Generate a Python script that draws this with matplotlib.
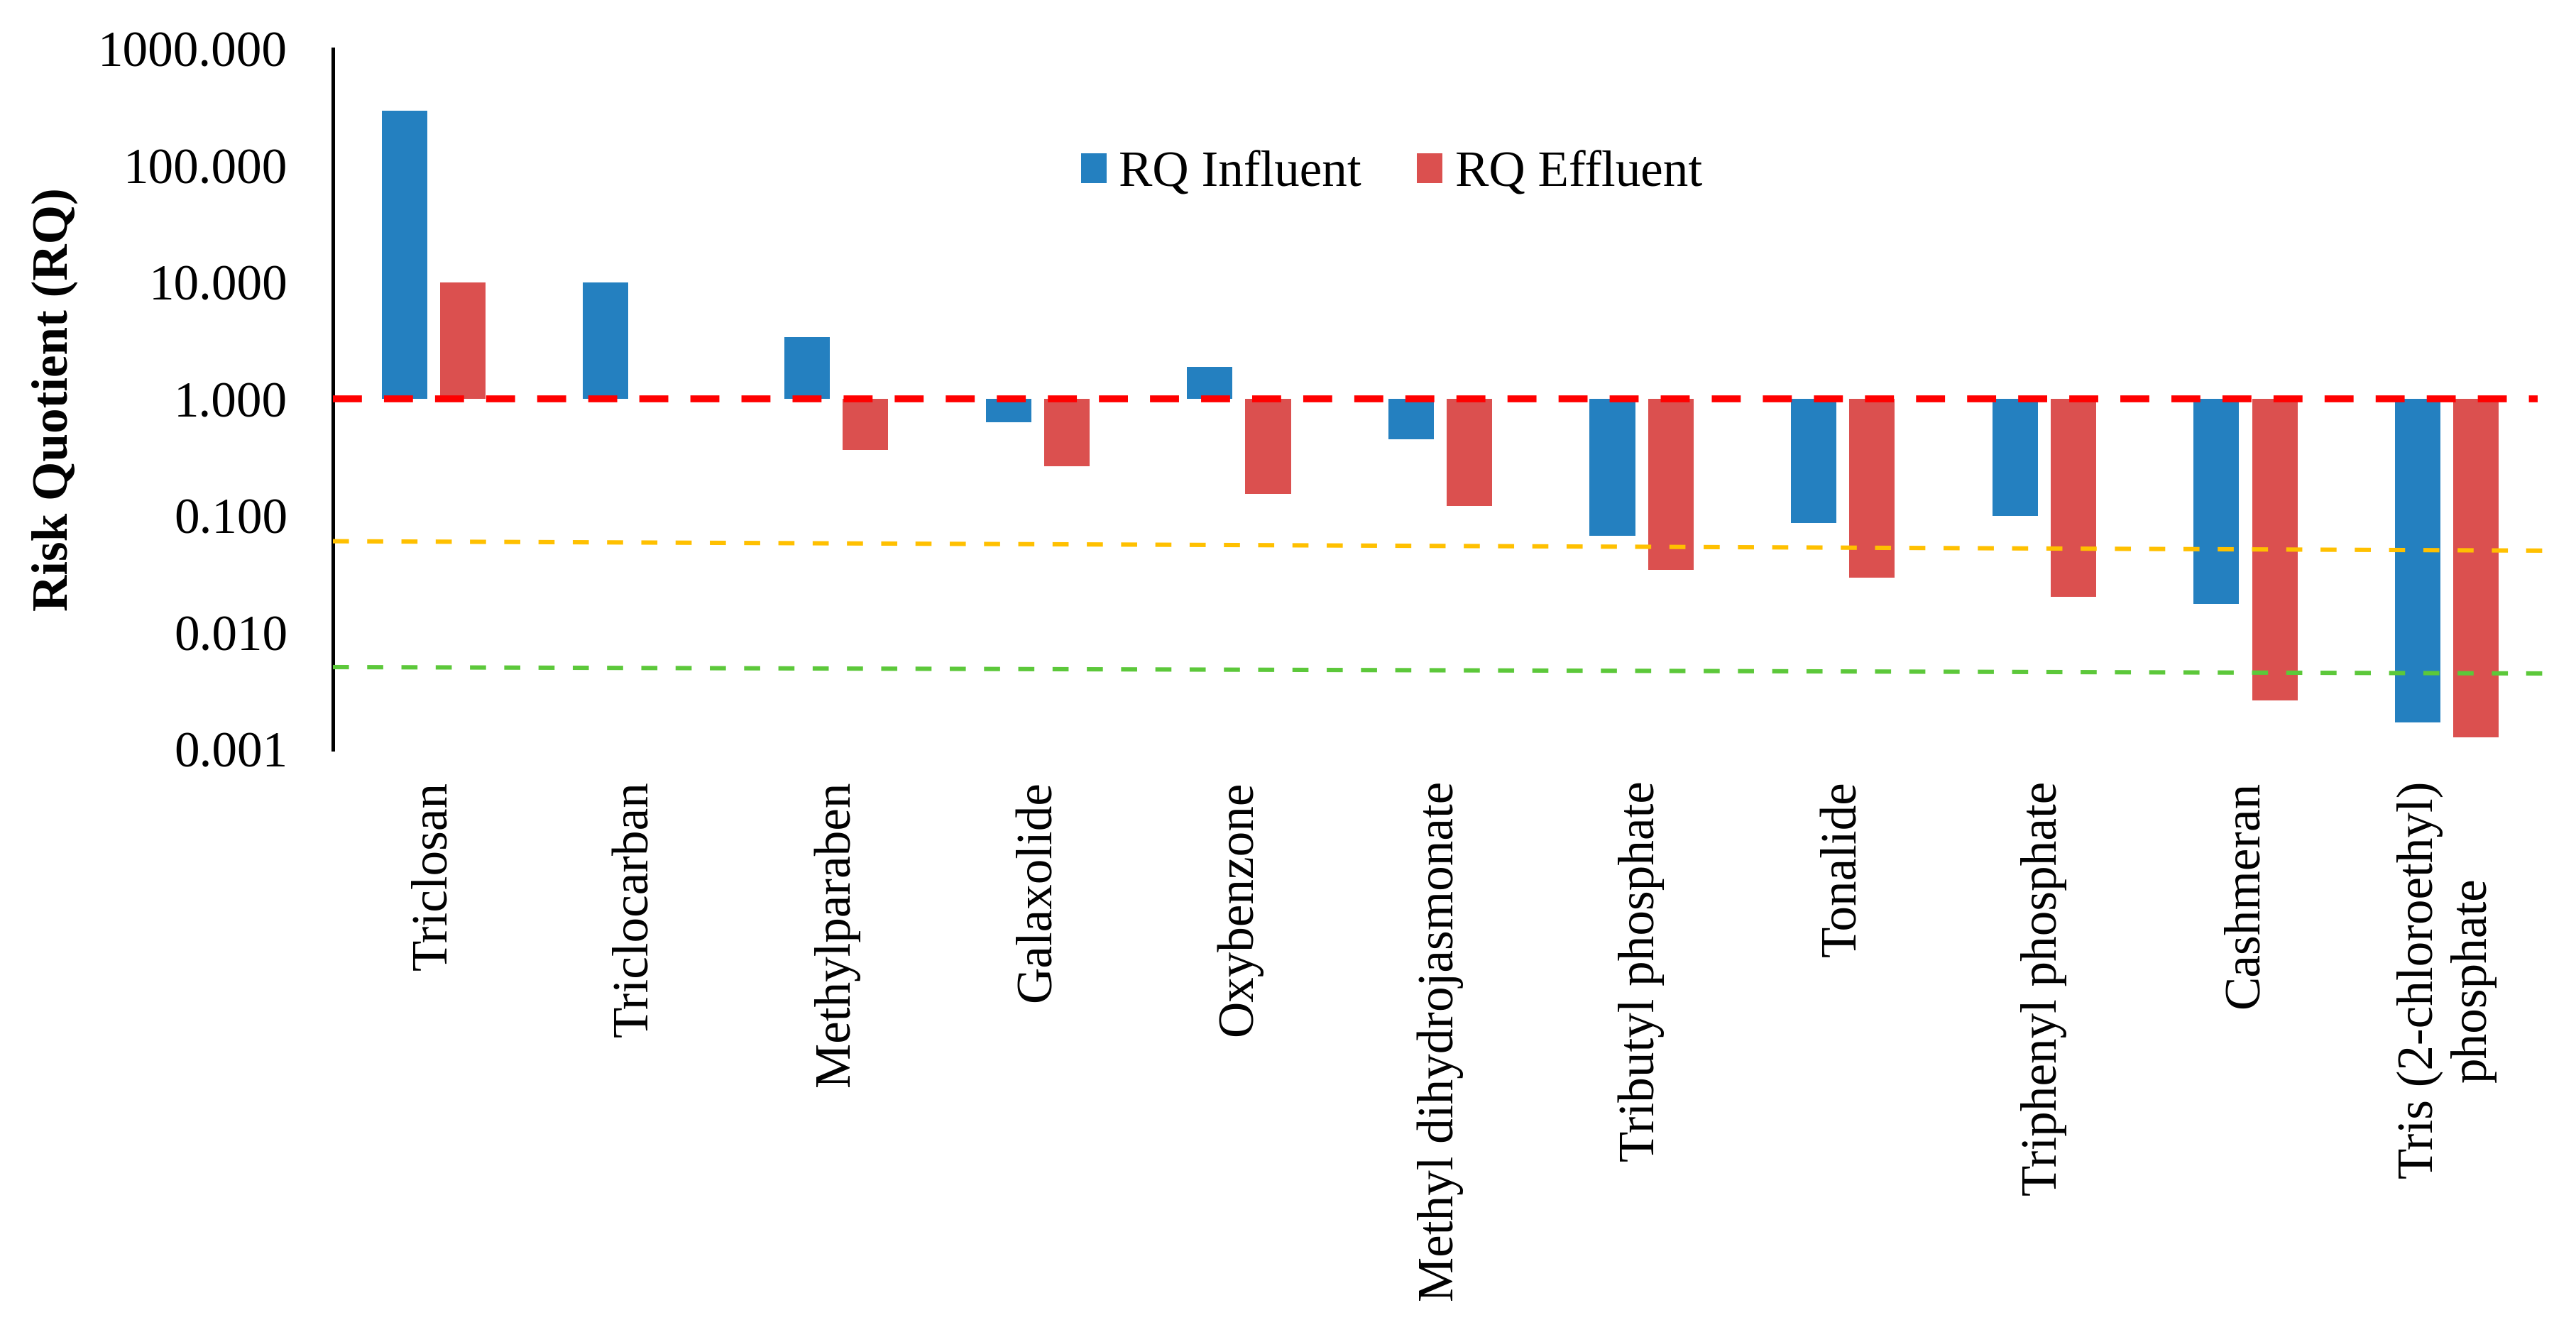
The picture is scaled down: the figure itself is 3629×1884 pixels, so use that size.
import matplotlib
matplotlib.use("Agg")
import matplotlib.pyplot as plt
import numpy as np
from matplotlib.ticker import FixedLocator, FuncFormatter, NullLocator

categories = ["Triclosan", "Triclocarban", "Methylparaben", "Galaxolide", "Oxybenzone",
              "Methyl dihydrojasmonate", "Tributyl phosphate", "Tonalide",
              "Triphenyl phosphate", "Cashmeran", "Tris (2-chloroethyl)\nphosphate"]
rq_influent = [296, 10.0, 3.4, 0.63, 1.9, 0.454, 0.068, 0.0875, 0.100, 0.0177, 0.0017]
rq_effluent = [10.0, None, 0.37, 0.265, 0.155, 0.122, 0.0344, 0.0297, 0.0203, 0.00263, 0.00127]
yticks = [0.001, 0.01, 0.1, 1, 10, 100, 1000]
risk_threshold = 1.0
yellow_line = [0.0607, 0.0504]
green_line = [0.00507, 0.00447]

blue = "#2480C0"
red = "#DB504F"

FONT = 'Liberation Serif'
plt.rcParams['font.family'] = FONT
fs = 25.6

fig = plt.figure(figsize=(18.15, 9.42), dpi=200)
ax = fig.add_axes([0.1292, 0.4395, 0.9887 - 0.1292, 0.9634 - 0.4395])

x = np.arange(len(categories))
w = 0.226
off = 0.145
inf_vals = np.array(rq_influent, dtype=float)
eff_vals = np.array([np.nan if v is None else v for v in rq_effluent], dtype=float)

ax.bar(x - off, inf_vals - risk_threshold, bottom=risk_threshold, width=w, color=blue,
       label="RQ Influent", zorder=2)
mask = ~np.isnan(eff_vals)
ax.bar(x[mask] + off, eff_vals[mask] - risk_threshold, bottom=risk_threshold, width=w,
       color=red, label="RQ Effluent", zorder=2)

ax.set_yscale('log')
ax.set_ylim(yticks[0], yticks[-1])
ax.set_xlim(-0.5, len(categories) - 0.5)

ax.plot([-0.5, len(categories) - 0.55], [risk_threshold, risk_threshold], color="#FF0000",
        lw=3.5, dashes=(4.2, 3.2), zorder=3)
ax.plot([-0.5, len(categories) - 0.5], yellow_line, color="#FFC000", lw=2.2,
        dashes=(3.7, 4.2), zorder=3)
ax.plot([-0.5, len(categories) - 0.5], green_line, color="#5CC83A", lw=2.2,
        dashes=(3.7, 4.2), zorder=3)

ax.yaxis.set_major_locator(FixedLocator(yticks))
ax.yaxis.set_minor_locator(NullLocator())
ax.yaxis.set_major_formatter(FuncFormatter(lambda v, p: f"{v:.3f}"))
ax.tick_params(axis='y', length=0, pad=23, labelsize=fs)
for lab in ax.get_yticklabels():
    lab.set_family(FONT)
ax.set_xticks(x)
ax.set_xticklabels(categories, rotation=90, fontsize=fs, ha='center', va='top',
                   multialignment='center', family=FONT)
ax.tick_params(axis='x', length=0, pad=16)

for s in ['top', 'right', 'bottom']:
    ax.spines[s].set_visible(False)
ax.spines['left'].set_linewidth(1.8)
ax.spines['left'].set_color('black')

ax.set_ylabel("Risk Quotient (RQ)", fontsize=fs, fontweight='bold', labelpad=10, family=FONT)

ax.legend(loc='center', bbox_to_anchor=(0.478, 0.822), ncol=2, frameon=False,
          prop={'family': FONT, 'size': fs}, handlelength=0.5, handleheight=0.55,
          handletextpad=0.25, columnspacing=1.1)

fig.savefig("out.png", dpi=200, facecolor='white')
